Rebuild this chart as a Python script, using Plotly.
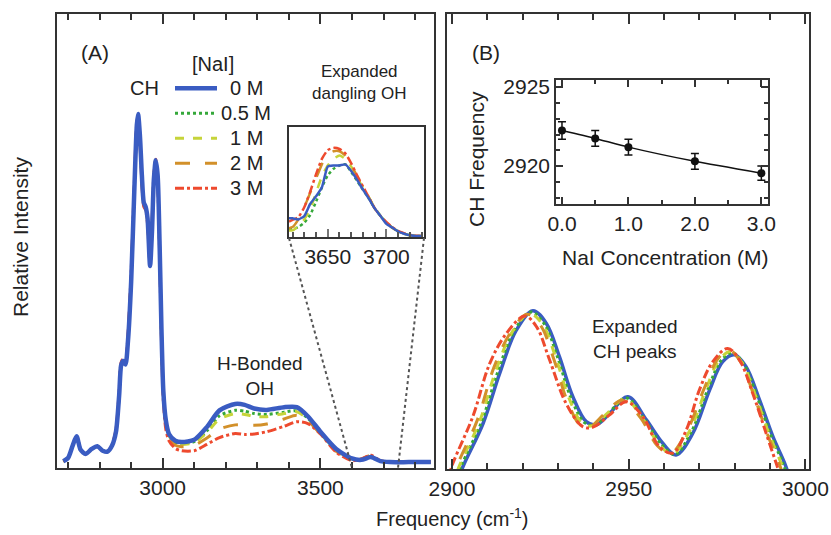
import plotly.graph_objects as go

W, H = 831, 535
FONT = "Liberation Sans, Arial, sans-serif"
TXT = "#222222"
AX = "#333333"

# ---------------- data ----------------
CONC_LABELS = ["0 M", "0.5 M", "1 M", "2 M", "3 M"]
COLORS = ["#3a5cc2", "#35a83a", "#c6d43a", "#d2902a", "#ee4a2e"]
DASHES = ["solid", "dot", "dash", "longdash", "dashdot"]
WIDTHS = [4.5, 3, 3, 3, 3]

# Panel A: full spectrum
FREQ_A = [2685, 2700, 2715, 2727, 2740, 2756, 2775, 2793, 2810, 2825, 2840, 2852, 2862, 2868,
          2874, 2882, 2890, 2900, 2910, 2918, 2922, 2928, 2934, 2940, 2946, 2952, 2960, 2966,
          2972, 2978, 2984, 2990, 2996, 3002, 3010, 3020, 3040, 3060, 3100, 3140, 3180, 3230,
          3260, 3290, 3330, 3385, 3425, 3460, 3500, 3550, 3600, 3630, 3660, 3690, 3720, 3780, 3850]
INT_A_0M = [0.015, 0.022, 0.05, 0.07, 0.04, 0.031, 0.042, 0.048, 0.038, 0.036, 0.05, 0.08, 0.16, 0.225,
            0.236, 0.228, 0.28, 0.41, 0.61, 0.755, 0.78, 0.73, 0.645, 0.585, 0.575, 0.55, 0.445, 0.52,
            0.635, 0.678, 0.645, 0.5, 0.31, 0.17, 0.105, 0.075, 0.06, 0.057, 0.062, 0.09, 0.127, 0.141,
            0.139, 0.131, 0.128, 0.134, 0.134, 0.114, 0.08, 0.042, 0.021, 0.018, 0.024, 0.015, 0.013, 0.013, 0.013]
INT_A_05M = [0.015, 0.022, 0.05, 0.07, 0.04, 0.031, 0.042, 0.048, 0.038, 0.036, 0.05, 0.08, 0.16, 0.226,
             0.236, 0.229, 0.282, 0.412, 0.612, 0.755, 0.778, 0.728, 0.642, 0.583, 0.574, 0.548, 0.445, 0.522,
             0.636, 0.678, 0.642, 0.496, 0.305, 0.167, 0.103, 0.073, 0.057, 0.054, 0.058, 0.082, 0.115, 0.127,
             0.125, 0.12, 0.118, 0.123, 0.126, 0.11, 0.077, 0.04, 0.02, 0.018, 0.025, 0.015, 0.013, 0.013, 0.013]
INT_A_1M = [0.015, 0.022, 0.05, 0.07, 0.04, 0.031, 0.042, 0.048, 0.038, 0.036, 0.05, 0.081, 0.162, 0.227,
            0.237, 0.23, 0.284, 0.415, 0.614, 0.756, 0.777, 0.726, 0.64, 0.581, 0.573, 0.546, 0.446, 0.524,
            0.638, 0.679, 0.64, 0.493, 0.3, 0.164, 0.101, 0.071, 0.055, 0.052, 0.056, 0.078, 0.108, 0.12,
            0.118, 0.114, 0.113, 0.12, 0.124, 0.108, 0.076, 0.039, 0.02, 0.018, 0.026, 0.015, 0.013, 0.013, 0.013]
INT_A_2M = [0.015, 0.022, 0.05, 0.07, 0.04, 0.031, 0.042, 0.048, 0.038, 0.036, 0.051, 0.082, 0.165, 0.229,
            0.238, 0.232, 0.288, 0.42, 0.618, 0.757, 0.775, 0.722, 0.636, 0.579, 0.571, 0.543, 0.447, 0.528,
            0.64, 0.68, 0.636, 0.488, 0.294, 0.16, 0.095, 0.065, 0.05, 0.047, 0.05, 0.066, 0.086, 0.095,
            0.095, 0.094, 0.097, 0.108, 0.116, 0.104, 0.075, 0.037, 0.018, 0.02, 0.028, 0.016, 0.013, 0.013, 0.013]
INT_A_3M = [0.015, 0.022, 0.05, 0.07, 0.04, 0.031, 0.042, 0.048, 0.038, 0.036, 0.052, 0.085, 0.17, 0.232,
            0.24, 0.235, 0.295, 0.43, 0.625, 0.76, 0.772, 0.716, 0.63, 0.576, 0.568, 0.538, 0.448, 0.535,
            0.645, 0.68, 0.63, 0.48, 0.285, 0.15, 0.085, 0.06, 0.043, 0.038, 0.038, 0.052, 0.067, 0.076,
            0.074, 0.075, 0.08, 0.092, 0.102, 0.098, 0.075, 0.035, 0.016, 0.02, 0.028, 0.016, 0.013, 0.013, 0.013]
INT_A = [INT_A_0M, INT_A_05M, INT_A_1M, INT_A_2M, INT_A_3M]

# Inset of panel A: dangling OH
FREQ_OH = [3617, 3620, 3625, 3630, 3635, 3640, 3645, 3650, 3655, 3660, 3665, 3670, 3675, 3680,
           3685, 3690, 3695, 3700, 3705, 3710, 3715, 3720, 3725, 3730]
INT_OH_0M = [0.17, 0.17, 0.16, 0.19, 0.30, 0.37, 0.45, 0.64, 0.65, 0.65, 0.66, 0.6, 0.52, 0.43,
             0.35, 0.26, 0.19, 0.12, 0.085, 0.05, 0.03, 0.015, 0.01, 0.01]
INT_OH_05M = [0.07, 0.07, 0.09, 0.13, 0.2, 0.32, 0.45, 0.56, 0.62, 0.65, 0.66, 0.59, 0.51, 0.43,
              0.35, 0.26, 0.19, 0.13, 0.085, 0.05, 0.03, 0.015, 0.01, 0.01]
INT_OH_1M = [0.06, 0.06, 0.1, 0.16, 0.25, 0.4, 0.55, 0.65, 0.71, 0.74, 0.71, 0.64, 0.54, 0.45,
             0.36, 0.27, 0.19, 0.13, 0.085, 0.05, 0.03, 0.015, 0.01, 0.01]
INT_OH_2M = [0.08, 0.09, 0.16, 0.27, 0.4, 0.53, 0.66, 0.75, 0.78, 0.78, 0.74, 0.66, 0.55, 0.45,
             0.36, 0.26, 0.19, 0.13, 0.085, 0.05, 0.03, 0.015, 0.01, 0.01]
INT_OH_3M = [0.14, 0.155, 0.18, 0.27, 0.41, 0.57, 0.71, 0.79, 0.81, 0.8, 0.76, 0.67, 0.56, 0.46,
             0.36, 0.26, 0.19, 0.135, 0.09, 0.055, 0.035, 0.02, 0.012, 0.01]
INT_OH = [INT_OH_0M, INT_OH_05M, INT_OH_1M, INT_OH_2M, INT_OH_3M]

# Panel B: expanded CH peaks
FREQ_B_0M = [2901, 2903.1, 2908.8, 2913.5, 2918.2, 2922.9, 2926.7, 2930.4, 2934.2, 2938, 2940.8, 2944.6,
             2949.8, 2955, 2959.7, 2963.4, 2968.1, 2972.9, 2976.6, 2979.9, 2983.2, 2987, 2990.8, 2994.1, 2996]
INT_B_0M = [-0.04, 0.005, 0.1, 0.21, 0.305, 0.348, 0.32, 0.247, 0.159, 0.104, 0.097, 0.122,
            0.159, 0.108, 0.056, 0.031, 0.078, 0.174, 0.236, 0.251, 0.225, 0.152, 0.071, 0.013, -0.03]
FREQ_B_05M = [2900.5, 2902.6, 2908.3, 2913, 2917.7, 2922.4, 2926.2, 2929.9, 2933.7, 2937.5, 2940.3, 2944.1,
              2949.4, 2954.5, 2959.2, 2963, 2967.6, 2972.4, 2976.1, 2979.4, 2982.7, 2986.5, 2990.3, 2993.6, 2995.5]
INT_B_05M = [-0.04, 0.006, 0.102, 0.214, 0.305, 0.345, 0.318, 0.245, 0.156, 0.102, 0.096, 0.121,
             0.156, 0.109, 0.055, 0.032, 0.08, 0.175, 0.238, 0.255, 0.228, 0.155, 0.073, 0.013, -0.03]
FREQ_B_1M = [2900, 2902.1, 2907.8, 2912.5, 2917.2, 2921.9, 2925.7, 2929.4, 2933.2, 2937, 2939.8, 2943.6,
             2948.9, 2954, 2958.7, 2962.4, 2967.1, 2971.9, 2975.6, 2978.9, 2982.2, 2986, 2989.8, 2993.1, 2995]
INT_B_1M = [-0.04, 0.007, 0.104, 0.218, 0.303, 0.342, 0.317, 0.244, 0.154, 0.099, 0.095, 0.12,
            0.154, 0.11, 0.053, 0.033, 0.082, 0.176, 0.24, 0.258, 0.232, 0.158, 0.075, 0.013, -0.03]
FREQ_B_2M = [2899.4, 2901.5, 2907.2, 2911.9, 2916.6, 2921.3, 2925.1, 2928.8, 2932.6, 2936.4, 2939.2, 2943,
             2948.2, 2953.4, 2958.1, 2961.8, 2966.5, 2971.3, 2975, 2978.3, 2981.6, 2985.4, 2989.2, 2992.5, 2994.4]
INT_B_2M = [-0.04, 0.008, 0.108, 0.224, 0.3, 0.34, 0.315, 0.242, 0.15, 0.096, 0.094, 0.12,
            0.151, 0.112, 0.051, 0.034, 0.084, 0.176, 0.24, 0.262, 0.236, 0.162, 0.077, 0.013, -0.03]
FREQ_B_3M = [2898.5, 2900.3, 2905.9, 2910.7, 2915.4, 2920.6, 2923.9, 2927.6, 2932.3, 2937, 2939.9, 2944.6,
             2949.3, 2954, 2958.7, 2962.5, 2966.3, 2970, 2973.8, 2978, 2981.3, 2985.1, 2988.9, 2991.7, 2993.5]
INT_B_3M = [-0.03, 0.013, 0.115, 0.232, 0.298, 0.336, 0.313, 0.24, 0.144, 0.093, 0.092, 0.119,
            0.148, 0.115, 0.049, 0.035, 0.086, 0.174, 0.236, 0.265, 0.24, 0.166, 0.078, 0.013, -0.03]
FREQ_B = [FREQ_B_0M, FREQ_B_05M, FREQ_B_1M, FREQ_B_2M, FREQ_B_3M]
INT_B = [INT_B_0M, INT_B_05M, INT_B_1M, INT_B_2M, INT_B_3M]

# Inset of panel B: CH frequency vs NaI concentration
NAI_CONC = [0.0, 0.5, 1.0, 2.0, 3.0]
CH_FREQ = [2922.25, 2921.75, 2921.2, 2920.3, 2919.55]
CH_ERR = [0.55, 0.5, 0.5, 0.5, 0.45]
INSET_B_XTICKS = [0, 1, 2, 3]
INSET_B_XTICKTEXT = ["0.0", "1.0", "2.0", "3.0"]

# ---------------- figure ----------------
def px(x):
    return x / W

def py(y):
    return 1 - y / H

fig = go.Figure()

for i in [1, 2, 3, 4, 0]:
    fig.add_trace(go.Scatter(x=FREQ_A, y=INT_A[i], mode="lines", xaxis="x", yaxis="y",
                             line=dict(color=COLORS[i], dash=DASHES[i], width=WIDTHS[i],
                                       shape="spline", smoothing=0.7),
                             name=CONC_LABELS[i], showlegend=False))

for i in [1, 2, 3, 4, 0]:
    fig.add_trace(go.Scatter(x=FREQ_OH, y=INT_OH[i], mode="lines", xaxis="x3", yaxis="y3",
                             line=dict(color=COLORS[i], dash=DASHES[i], width=2.5,
                                       shape="spline", smoothing=0.5),
                             name=CONC_LABELS[i], showlegend=False))

for i in [0, 1, 2, 3, 4]:
    fig.add_trace(go.Scatter(x=FREQ_B[i], y=INT_B[i], mode="lines", xaxis="x2", yaxis="y2",
                             line=dict(color=COLORS[i], dash=DASHES[i], width=3.5 if i == 0 else 3,
                                       shape="spline", smoothing=1.0),
                             name=CONC_LABELS[i], showlegend=False))

fig.add_trace(go.Scatter(x=NAI_CONC, y=CH_FREQ, mode="lines+markers", xaxis="x4", yaxis="y4",
                         line=dict(color="#111111", width=1.5, shape="spline", smoothing=0.6),
                         marker=dict(color="#111111", size=8),
                         error_y=dict(type="data", array=CH_ERR, color="#111111", thickness=1.5, width=4),
                         showlegend=False, name="CH frequency"))

main_ax = dict(showline=True, linecolor=AX, linewidth=2, mirror="ticks", showgrid=False, zeroline=False,
               ticks="inside", tickcolor=AX, tickwidth=2, ticklen=10,
               tickfont=dict(family=FONT, size=21, color=TXT))
noy = dict(showline=True, linecolor=AX, linewidth=2, mirror=True, showgrid=False, zeroline=False,
           ticks="", showticklabels=False)

fig.update_layout(
    width=W, height=H, margin=dict(l=0, r=0, t=0, b=0, autoexpand=False),
    paper_bgcolor="white", plot_bgcolor="white", showlegend=False,
    font=dict(family=FONT, color=TXT),
    xaxis=dict(main_ax, domain=[px(57), px(434)], range=[2665, 3860], tick0=3000, dtick=500, anchor="y",
               minor=dict(dtick=100, ticks="inside", ticklen=6, tickcolor=AX, tickwidth=1.5)),
    yaxis=dict(noy, domain=[py(468), py(14)], range=[0, 1], anchor="x"),
    xaxis2=dict(main_ax, domain=[px(447), px(809)], range=[2898.6, 3001], tick0=2900, dtick=50, anchor="y2",
                minor=dict(dtick=10, ticks="inside", ticklen=6, tickcolor=AX, tickwidth=1.5)),
    yaxis2=dict(noy, domain=[py(469), py(14)], range=[0, 1], anchor="x2"),
    xaxis3=dict(showline=True, linecolor=AX, linewidth=1.5, mirror=True, showgrid=False, zeroline=False,
                domain=[px(289), px(424)], range=[3617, 3732], tickvals=[3650, 3700],
                ticks="inside", ticklen=8, tickwidth=1.5, tickcolor="#777777",
                minor=dict(dtick=10, ticks="inside", ticklen=5, tickcolor="#555555", tickwidth=1.5),
                tickfont=dict(family=FONT, size=21, color=TXT), anchor="y3"),
    yaxis3=dict(showline=True, linecolor=AX, linewidth=1.5, mirror=True, showgrid=False, zeroline=False,
                domain=[py(237), py(127)], range=[0, 1], showticklabels=False, ticks="", anchor="x3"),
    xaxis4=dict(showline=True, linecolor=AX, linewidth=1.5, mirror="ticks", showgrid=False, zeroline=False,
                domain=[px(556), px(768)], range=[-0.09, 3.1], tickvals=INSET_B_XTICKS,
                ticktext=INSET_B_XTICKTEXT, ticks="inside", ticklen=7, tickwidth=1.5, tickcolor=AX,
                minor=dict(dtick=0.5, ticks="inside", ticklen=4, tickcolor=AX, tickwidth=1.5),
                tickfont=dict(family=FONT, size=21, color=TXT), anchor="y4"),
    yaxis4=dict(showline=True, linecolor=AX, linewidth=1.5, mirror="ticks", showgrid=False, zeroline=False,
                domain=[py(204), py(80)], range=[2917.6, 2925.45], tickvals=[2920, 2925],
                ticks="inside", ticklen=7, tickwidth=1.5, tickcolor=AX,
                minor=dict(dtick=1, ticks="inside", ticklen=4, tickcolor=AX, tickwidth=1.5),
                tickfont=dict(family=FONT, size=21, color=TXT), anchor="x4"),
)

ann = []
def label(x, y, text, size=20, angle=0, xanchor="center"):
    ann.append(dict(x=px(x), y=py(y), xref="paper", yref="paper", text=text, showarrow=False,
                    xanchor=xanchor, yanchor="middle", textangle=angle,
                    font=dict(family=FONT, size=size, color=TXT)))

label(95, 53, "(A)", 21)
label(486, 53, "(B)", 21)
label(144, 88, "CH", 20)
label(213, 64, "[NaI]", 20)
label(359, 82, "Expanded<br>dangling OH", 17)
label(260, 376, "H-Bonded<br>OH", 19)
label(635, 339, "Expanded<br>CH peaks", 19)
label(20, 237, "Relative Intensity", 21, angle=-90)
label(452, 517, "Frequency (cm<sup>-1</sup>)", 20)
label(476, 159, "CH Frequency", 21, angle=-90)
label(665, 257, "NaI Concentration (M)", 21)

shapes = []
rows = [88.3, 113.3, 138.3, 163.3, 188.3]
for i, r in enumerate(rows):
    shapes.append(dict(type="line", xref="paper", yref="paper", x0=px(175), x1=px(217), y0=py(r), y1=py(r),
                       line=dict(color=COLORS[i], dash=DASHES[i], width=WIDTHS[i])))
    label(246, r, CONC_LABELS[i], 20)

# dotted connectors from inset to main axis
shapes.append(dict(type="line", xref="paper", yref="paper", x0=px(289), y0=py(238), x1=px(352), y1=py(468),
                   line=dict(color="#555555", dash="dot", width=2)))
shapes.append(dict(type="line", xref="paper", yref="paper", x0=px(424), y0=py(238), x1=px(398), y1=py(468),
                   line=dict(color="#555555", dash="dot", width=2)))

fig.update_layout(annotations=ann, shapes=shapes)
fig.write_html("out.html", config={"displayModeBar": False},
               post_script="document.body.style.margin='0px';document.body.style.overflow='hidden';")
